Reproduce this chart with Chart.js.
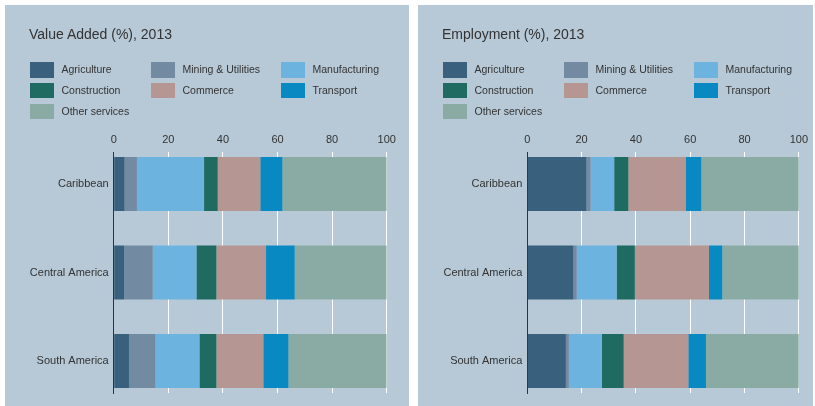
<!DOCTYPE html>
<html>
<head>
<meta charset="utf-8">
<script src="https://cdn.jsdelivr.net/npm/chart.js@4"></script>
<style>
  body { margin: 0; background: #fff; width: 815px; height: 406px; overflow: hidden; font-family: "Liberation Sans", Arial, sans-serif; }
  .panel { position: absolute; top: 5px; height: 401px; background: #b7c9d6; }
  .panel .wrap { position: absolute; left: 0; top: 0; width: 100%; height: 100%; }
  .title { position: absolute; left: 24px; top: 21px; font-size: 14px; line-height: 16px; color: #333; white-space: nowrap; }
  .legend-item { position: absolute; height: 15.5px; font-size: 10.5px; line-height: 15.5px; color: #333; white-space: nowrap; }
  .legend-item .box { position: absolute; left: 0; top: 0; width: 23.5px; height: 15.5px; }
  .legend-item span { position: absolute; left: 31.5px; top: 0; }
</style>
</head>
<body>
<div class="panel" id="panelVA" style="left:5px; width:404px;">
  <div class="wrap"><canvas id="chartVA"></canvas></div>
  <div class="title">Value Added (%), 2013</div>
</div>
<div class="panel" id="panelEmp" style="left:418px; width:395px;">
  <div class="wrap"><canvas id="chartEmp"></canvas></div>
  <div class="title">Employment (%), 2013</div>
</div>
<script>
// Regions (rows) and sectors (stacked segments)
const regions = ["Caribbean", "Central America", "South America"];
const sectors = [
  "Agriculture",
  "Mining & Utilities",
  "Manufacturing",
  "Construction",
  "Commerce",
  "Transport",
  "Other services",
];
const sectorColors = ["#39617d", "#728ba3", "#6cb3df", "#1f6b62", "#b69692", "#0889c2", "#89aba3"];
const xTicks = [0, 20, 40, 60, 80, 100];

// Value added shares, one array per region, in sector order
const vaCaribbean = [4.0, 4.5, 24.6, 5.0, 15.6, 8.1, 38.2];
const vaCentralAmerica = [3.8, 10.5, 16.0, 7.3, 18.2, 10.5, 33.7];
const vaSouthAmerica = [5.6, 9.7, 16.1, 6.2, 17.2, 9.2, 36.0];

// Employment shares, one array per region, in sector order
const empCaribbean = [21.8, 1.5, 8.7, 5.2, 21.1, 5.8, 35.9];
const empCentralAmerica = [17.0, 1.2, 14.7, 6.7, 27.3, 4.9, 28.2];
const empSouthAmerica = [14.2, 1.1, 12.2, 8.0, 23.8, 6.5, 34.2];

Chart.defaults.font.family = '"Liberation Sans", Arial, sans-serif';
Chart.defaults.color = "#333";

// Legend in three columns, same for both panels
function buildLegend(panelId) {
  const panel = document.getElementById(panelId);
  const colLeft = [25, 146, 276];
  sectors.forEach((sector, i) => {
    const item = document.createElement("div");
    item.className = "legend-item";
    item.style.left = colLeft[i % 3] + "px";
    item.style.top = 57 + Math.floor(i / 3) * 20.8 + "px";
    item.innerHTML = `<div class="box" style="background:${sectorColors[i]}"></div><span>${sector}</span>`;
    panel.appendChild(item);
  });
}

function makeChart(canvasId, regionValues, pad) {
  // one dataset per sector, each bar placed at y = region index + 1
  const datasets = sectors.map((sector, s) => ({
    label: sector,
    data: regionValues.map((vals, r) => ({ x: vals[s], y: r + 1 })),
    backgroundColor: sectorColors[s],
    borderWidth: 0,
    categoryPercentage: 1,
    barPercentage: 0.61,
  }));

  return new Chart(document.getElementById(canvasId), {
    type: "bar",
    data: { datasets },
    options: {
      indexAxis: "y",
      responsive: true,
      maintainAspectRatio: false,
      animation: false,
      layout: { padding: pad },
      plugins: {
        legend: { display: false },
        tooltip: { enabled: false },
      },
      scales: {
        x: {
          type: "linear",
          position: "top",
          stacked: true,
          min: 0,
          max: 100,
          afterBuildTicks: (scale) => {
            scale.ticks = xTicks.map((v) => ({ value: v }));
          },
          ticks: { padding: 5, font: { size: 11 } },
          grid: {
            color: (ctx) => (ctx.tick && ctx.tick.value === 0 ? "rgba(0,0,0,0)" : "#ffffff"),
            lineWidth: 1,
            drawTicks: false,
          },
          border: { display: false },
          afterFit: (scale) => {
            scale.height = 20;
          },
        },
        y: {
          type: "linear",
          stacked: true,
          reverse: true,
          offset: false,
          min: 0.6384,
          max: 3.3616,
          afterBuildTicks: (scale) => {
            scale.ticks = regions.map((_, i) => ({ value: i + 1 }));
          },
          ticks: {
            padding: 5,
            font: { size: 11 },
            callback: (v) => regions[v - 1],
          },
          grid: { offset: false, drawOnChartArea: false, drawTicks: false },
          border: { display: true, color: "#333", width: 1 },
          afterFit: (scale) => {
            scale.width = 100;
          },
        },
      },
    },
  });
}

buildLegend("panelVA");
buildLegend("panelEmp");

makeChart("chartVA", [vaCaribbean, vaCentralAmerica, vaSouthAmerica], { left: 8.7, right: 22.3, top: 127, bottom: 13 });
makeChart("chartEmp", [empCaribbean, empCentralAmerica, empSouthAmerica], { left: 9.3, right: 13, top: 127, bottom: 13 });
</script>
</body>
</html>
